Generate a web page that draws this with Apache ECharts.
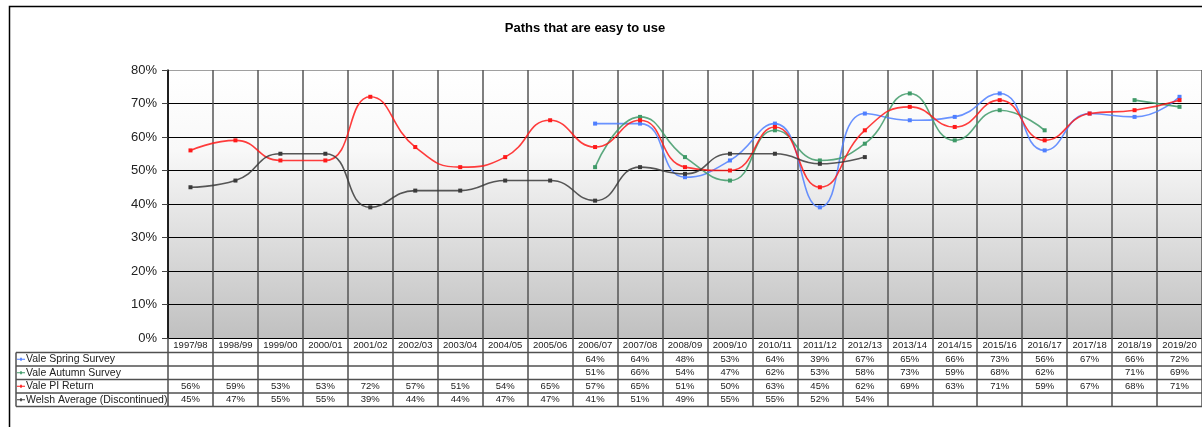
<!DOCTYPE html>
<html>
<head>
<meta charset="utf-8">
<script src="https://cdn.jsdelivr.net/npm/echarts@6/dist/echarts.min.js"></script>
<style>
  html, body { margin: 0; padding: 0; background: #fff; }
  #chart { width: 1202px; height: 427px; }
</style>
</head>
<body>
<div id="chart"></div>
<script>
const years = ['1997/98', '1998/99', '1999/00', '2000/01', '2001/02', '2002/03', '2003/04', '2004/05',
  '2005/06', '2006/07', '2007/08', '2008/09', '2009/10', '2010/11', '2011/12', '2012/13', '2013/14',
  '2014/15', '2015/16', '2016/17', '2017/18', '2018/19', '2019/20']

const seriesNames = ['Vale Spring Survey', 'Vale Autumn Survey', 'Vale PI Return', 'Welsh Average (Discontinued)']

const springSurvey = [null, null, null, null, null, null, null, null, null,
  64, 64, 48, 53, 64, 39, 67, 65, 66, 73, 56, 67, 66, 72]
const autumnSurvey = [null, null, null, null, null, null, null, null, null,
  51, 66, 54, 47, 62, 53, 58, 73, 59, 68, 62, null, 71, 69]
const piReturn = [56, 59, 53, 53, 72, 57, 51, 54, 65, 57, 65, 51, 50, 63, 45, 62, 69, 63, 71, 59, 67, 68, 71]
const welshAverage = [45, 47, 55, 55, 39, 44, 44, 47, 47, 41, 51, 49, 55, 55, 52, 54,
  null, null, null, null, null, null, null]

const yTicks = [0, 10, 20, 30, 40, 50, 60, 70, 80]

const allSeries = [springSurvey, autumnSurvey, piReturn, welshAverage]
const colors = ['#4f7fff', '#3f9a68', '#ff1a1a', '#3a3a3a']

const FONT = 'Liberation Sans, Arial, sans-serif'
const ROW_H = 13.5
const PLOT_TOP = 70
const PLOT_BOTTOM = 338
const TABLE_LEFT = 16
const TABLE_RIGHT = 1203

const chart = echarts.init(document.getElementById('chart'))

// data table rows under the axis (header row + one row per series)
const tableLines = []
for (let i = 1; i <= 5; i++) {
  const y = PLOT_BOTTOM + 1 + ROW_H * i
  tableLines.push({
    type: 'line',
    shape: { x1: TABLE_LEFT, y1: y, x2: TABLE_RIGHT, y2: y },
    style: { stroke: '#505050', lineWidth: 1.5 }
  })
}
tableLines.push({
  type: 'line',
  shape: { x1: TABLE_LEFT, y1: PLOT_BOTTOM + 1 + ROW_H, x2: TABLE_LEFT, y2: PLOT_BOTTOM + 1 + ROW_H * 5 },
  style: { stroke: '#505050', lineWidth: 1.5 }
})

const option = {
  animation: false,
  backgroundColor: '#fff',
  title: {
    text: 'Paths that are easy to use',
    left: 580,
    top: 17,
    textAlign: 'center',
    textStyle: { fontFamily: FONT, fontSize: 13, fontWeight: 'bold', color: '#000' }
  },
  legend: {
    data: seriesNames,
    orient: 'vertical',
    left: 17,
    top: PLOT_BOTTOM + 1 + ROW_H,
    padding: 0,
    itemGap: 0,
    itemWidth: 8,
    itemHeight: 4,
    icon: 'path://M0,1.5L10,1.5L10,2.5L0,2.5Z M4,0L6,0L6,4L4,4Z',
    textStyle: { fontFamily: FONT, fontSize: 10.5, color: '#222', lineHeight: ROW_H, padding: [0, 0, 0, -4] }
  },
  graphic: [
    {
      type: 'rect',
      shape: { x: 9.5, y: 6.5, width: 1300, height: 600 },
      style: { fill: null, stroke: '#000', lineWidth: 1.5 },
      silent: true
    },
    ...tableLines
  ],
  grid: {
    left: 168,
    top: PLOT_TOP,
    width: 1035,
    height: PLOT_BOTTOM - PLOT_TOP,
    show: true,
    borderWidth: 0,
    backgroundColor: {
      type: 'linear', x: 0, y: 0, x2: 0, y2: 1,
      colorStops: [
        { offset: 0, color: '#ffffff' },
        { offset: 0.3, color: '#f8f8f8' },
        { offset: 1, color: '#c0c0c0' }
      ]
    }
  },
  xAxis: {
    type: 'category',
    data: years,
    boundaryGap: true,
    axisLine: { lineStyle: { color: '#000', width: 1 } },
    axisTick: { show: true, interval: 0, length: ROW_H * 5 + 1, lineStyle: { color: '#505050', width: 1.5 } },
    splitLine: { show: true, interval: 0, lineStyle: { color: '#555', width: 1.5 } },
    axisLabel: {
      interval: 0,
      margin: 1,
      verticalAlign: 'top',
      formatter: (value, idx) => {
        const rows = allSeries.map(s => s[idx] == null ? '{v| }' : '{v|' + s[idx] + '%}')
        return ['{h|' + value + '}'].concat(rows).join('\n')
      },
      rich: {
        h: { fontFamily: FONT, fontSize: 9.5, color: '#222', height: ROW_H, lineHeight: ROW_H },
        v: { fontFamily: FONT, fontSize: 9.5, color: '#222', height: ROW_H, lineHeight: ROW_H }
      }
    }
  },
  yAxis: {
    type: 'value',
    min: yTicks[0],
    max: yTicks[yTicks.length - 1],
    interval: 10,
    axisLine: { show: true, lineStyle: { color: '#000', width: 1.5 } },
    axisTick: { show: true, length: 6, lineStyle: { color: '#444' } },
    axisLabel: { margin: 11, fontFamily: FONT, fontSize: 13, color: '#222', formatter: '{value}%' },
    splitLine: {
      lineStyle: { color: ['#000', '#000', '#000', '#000', '#000', '#000', '#000', '#000', '#a0a0a0'], width: 1.2 }
    }
  },
  series: seriesNames.map((name, i) => ({
    name,
    type: 'line',
    data: allSeries[i],
    smooth: 0.5,
    connectNulls: false,
    symbol: 'rect',
    symbolSize: 4,
    lineStyle: { color: colors[i], width: 1.6, opacity: 0.85 },
    itemStyle: { color: colors[i] }
  }))
}

chart.setOption(option)
</script>
</body>
</html>
